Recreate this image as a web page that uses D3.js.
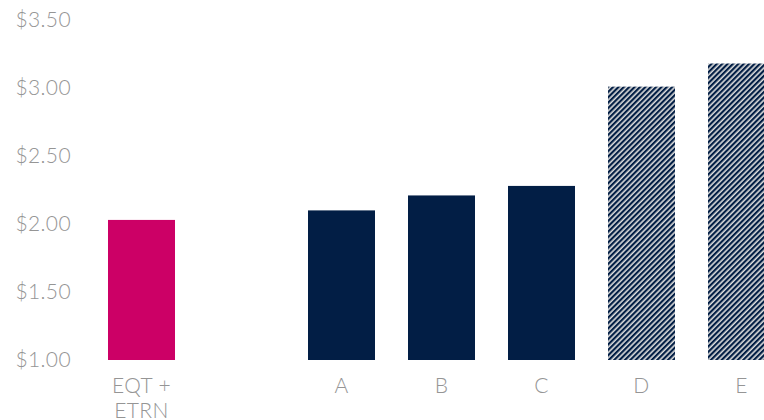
<!DOCTYPE html>
<html>
<head>
<meta charset="utf-8">
<script src="https://cdn.jsdelivr.net/npm/d3@7"></script>
<style>
  html, body { margin: 0; padding: 0; background: #fff; overflow: hidden; }
  svg { display: block; }
  .tick-label { font-family: Lato, "Open Sans", sans-serif; font-weight: 300; fill: #959595; font-size: 21px; letter-spacing: 0.4px; }
</style>
</head>
<body>
<div id="chart"></div>
<script>
// chart data
const categories = ['EQT + ETRN', '', 'A', 'B', 'C', 'D', 'E'];
const catLines = [['EQT +', 'ETRN'], [], ['A'], ['B'], ['C'], ['D'], ['E']];
const values = [2.03, null, 2.10, 2.21, 2.28, 3.01, 3.18];
const barKind = ['highlight', null, 'solid', 'solid', 'solid', 'hatched', 'hatched'];
const yTicks = [1.0, 1.5, 2.0, 2.5, 3.0, 3.5];

const width = 764, height = 420;

const svg = d3.select('#chart')
    .append('svg')
    .attr('width', width)
    .attr('height', height);

// diagonal hatch for the estimate bars
const defs = svg.append('defs');
const pat = defs.append('pattern')
    .attr('id', 'hatch')
    .attr('patternUnits', 'userSpaceOnUse')
    .attr('width', 3.8)
    .attr('height', 3.8)
    .attr('patternTransform', 'rotate(45)');
pat.append('rect')
    .attr('width', 3.8)
    .attr('height', 3.8)
    .attr('fill', '#dcdcdc');
pat.append('rect')
    .attr('width', 2.2)
    .attr('height', 3.8)
    .attr('fill', '#021e45');

const x = d3.scaleBand()
    .domain(categories.map((c, i) => i))
    .range([91.5, 791.5])
    .paddingInner(0.33)
    .paddingOuter(0.165);

const y = d3.scaleLinear()
    .domain([1, 3.5])
    .range([360, 20]);

const fills = { highlight: '#cc0066', solid: '#021e45', hatched: 'url(#hatch)' };

// y axis labels
const yAxis = d3.axisLeft(y)
    .tickValues(yTicks)
    .tickFormat(d3.format('$.2f'))
    .tickSize(0)
    .tickPadding(0);
const yg = svg.append('g')
    .attr('transform', 'translate(71,0)')
    .call(yAxis);
yg.select('.domain').remove();
yg.selectAll('text')
    .attr('class', 'tick-label')
    .attr('font-size', null)
    .attr('font-family', null);

// bars
svg.append('g')
    .selectAll('rect')
    .data(values.map((v, i) => ({ v, i, kind: barKind[i] })).filter(d => d.v != null))
    .enter()
    .append('rect')
    .attr('x', d => x(d.i))
    .attr('width', x.bandwidth())
    .attr('y', d => y(d.v))
    .attr('height', d => y(1) - y(d.v))
    .attr('fill', d => fills[d.kind]);

// x labels
const xl = svg.append('g')
    .selectAll('text')
    .data(catLines.map((lines, i) => ({ lines, i })))
    .enter()
    .append('text')
    .attr('class', 'tick-label')
    .attr('text-anchor', 'middle')
    .attr('x', d => x(d.i) + x.bandwidth() / 2)
    .attr('y', 393);
xl.selectAll('tspan')
    .data(d => d.lines.map((t, k) => ({ t, k, cx: x(d.i) + x.bandwidth() / 2 })))
    .enter()
    .append('tspan')
    .attr('x', d => d.cx)
    .attr('dy', d => d.k === 0 ? 0 : 25)
    .text(d => d.t);
</script>
</body>
</html>
